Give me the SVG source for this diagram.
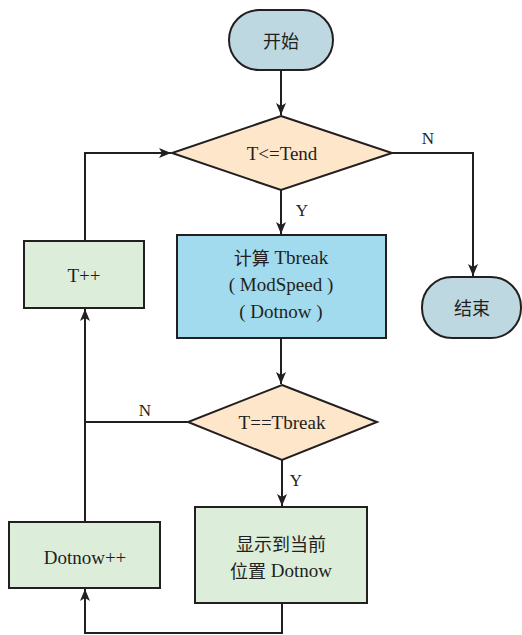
<svg xmlns="http://www.w3.org/2000/svg" width="522" height="635" viewBox="0 0 522 635">
<style>
.s{stroke:#231f20;stroke-width:2}
.tx{font-family:"Liberation Serif",serif;font-size:19px;fill:#231f20;text-anchor:middle;dominant-baseline:central}
.k{font-family:"Noto Sans CJK SC",sans-serif;font-size:18px}
.l{font-family:"Liberation Serif",serif;font-size:17px;fill:#231f20;text-anchor:middle;dominant-baseline:central}
.c{fill:none;stroke:#231f20;stroke-width:2}
</style>
<defs>
<marker id="a" viewBox="0 0 12 10" refX="12" refY="5" markerWidth="12" markerHeight="10" markerUnits="userSpaceOnUse" orient="auto">
<path d="M0,0 L12,5 L0,10 L3,5 Z" fill="#231f20"/>
</marker>
</defs>
<rect width="522" height="635" fill="#fff"/>
<g id="connectors">
<path class="c" d="M281 70 V115" marker-end="url(#a)"/>
<path class="c" d="M281 190 V234" marker-end="url(#a)"/>
<path class="c" d="M392 153 H473 V276" marker-end="url(#a)"/>
<path class="c" d="M281 338 V384" marker-end="url(#a)"/>
<path class="c" d="M282 460 V506" marker-end="url(#a)"/>
<path class="c" d="M188 422 H85"/>
<path class="c" d="M85 522 V309" marker-end="url(#a)"/>
<path class="c" d="M85 241 V153 H171" marker-end="url(#a)"/>
<path class="c" d="M282 603 V633 H85 V589" marker-end="url(#a)"/>
<text class="l" x="428" y="138">N</text>
<text class="l" x="302" y="210">Y</text>
<text class="l" x="145" y="410">N</text>
<text class="l" x="296" y="480">Y</text>
</g>
<g id="start">
<rect class="s" x="229" y="10" width="104" height="60" rx="30" fill="#bed8e2"/>
<text class="tx" x="281" y="40"><tspan class="k">开始</tspan></text>
</g>
<g id="cond1">
<polygon class="s" points="281,116 392,153 281,190 172,153" fill="#fde6c9"/>
<text class="tx" x="282" y="153">T&lt;=Tend</text>
</g>
<g id="calc">
<rect class="s" x="177" y="235" width="209" height="103" fill="#a2dbee"/>
<text class="tx" x="281" y="257"><tspan class="k">计算</tspan> Tbreak</text>
<text class="tx" x="281" y="284">( ModSpeed )</text>
<text class="tx" x="281" y="311">( Dotnow )</text>
</g>
<g id="tinc">
<rect class="s" x="24" y="241" width="120" height="67" fill="#dcedda"/>
<text class="tx" x="84" y="275">T++</text>
</g>
<g id="end">
<rect class="s" x="422" y="277" width="99" height="61" rx="30" fill="#bed8e2"/>
<text class="tx" x="472" y="307"><tspan class="k">结束</tspan></text>
</g>
<g id="cond2">
<polygon class="s" points="282,385 377,422 282,460 188,422" fill="#fde6c9"/>
<text class="tx" x="282" y="422">T==Tbreak</text>
</g>
<g id="show">
<rect class="s" x="195" y="507" width="172" height="96" fill="#dcedda"/>
<text class="tx" x="281" y="543"><tspan class="k">显示到当前</tspan></text>
<text class="tx" x="281" y="570"><tspan class="k">位置</tspan> Dotnow</text>
</g>
<g id="dinc">
<rect class="s" x="9" y="522" width="151" height="66" fill="#dcedda"/>
<text class="tx" x="85" y="557">Dotnow++</text>
</g>
</svg>
